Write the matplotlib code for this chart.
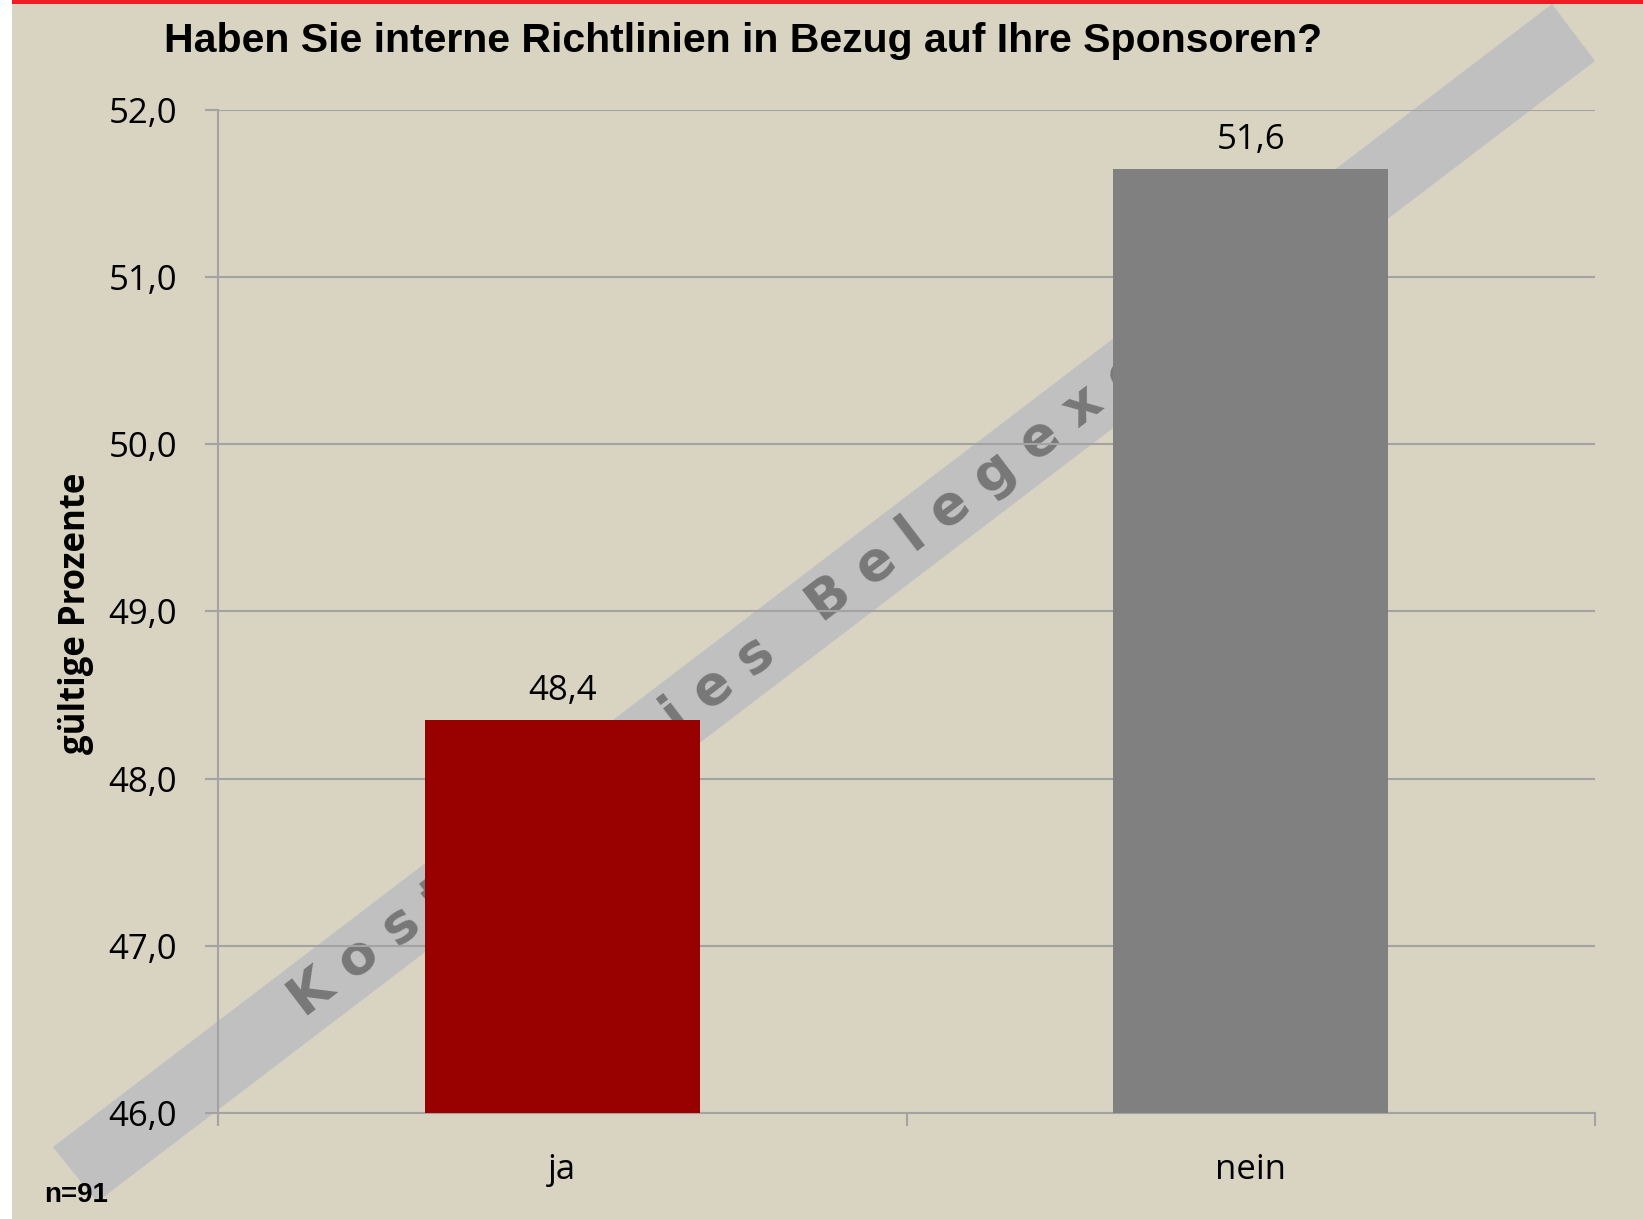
import numpy as np
import matplotlib
matplotlib.use("Agg")
import matplotlib.pyplot as plt
from matplotlib.patches import Polygon

# data (n=91 -> 44 / 47 answers)
categories = ["ja", "nein"]
values = [48.352, 51.648]
bar_colors = ["#990000", "#808080"]
yticks = [46, 47, 48, 49, 50, 51, 52]

BG = "#d9d3c1"
GRID = "#a3a3a3"

W, H = 1643, 1219
fig = plt.figure(figsize=(W / 100, H / 100), dpi=100, facecolor="white")

def fx(px):
    return px / W

def fy(py):
    return 1 - py / H

# beige panel with white strip on the left and red line on top
fig.patches.append(plt.Rectangle((fx(12), 0), 1 - fx(12), fy(2), transform=fig.transFigure,
                                 facecolor=BG, edgecolor="none", zorder=-5))
fig.patches.append(plt.Rectangle((fx(12), fy(4)), 1 - fx(12), 1 - fy(4), transform=fig.transFigure,
                                 facecolor="#ee1c25", edgecolor="none", zorder=-5))

# watermark band
band = [(53, 1147), (97, 1202), (1595, 61), (1552, 4)]
fig.patches.append(Polygon([(fx(x), fy(y)) for x, y in band], closed=True,
                           transform=fig.transFigure, facecolor="#c0c0c0",
                           edgecolor="none", zorder=-4))
wm = " ".join("Kostenfreies Belegexemplar")
fig.text(fx(826), fy(602), wm, rotation=37.3, rotation_mode="anchor",
         ha="center", va="center", fontsize=39, fontweight="bold",
         color="#787878", family="DejaVu Sans", zorder=-3)

ax = fig.add_axes([fx(218), fy(1113), fx(1595) - fx(218), fy(110) - fy(1113)])
ax.set_facecolor("none")

x = np.arange(len(categories))
ax.bar(x, values, width=0.4, color=bar_colors, zorder=3)
for xi, v in zip(x, values):
    ax.text(xi, v + 0.07, f"{v:.1f}".replace(".", ","), ha="center", va="bottom",
            fontsize=25, family="Open Sans", color="black")

ax.set_xlim(-0.5, 1.5)
ax.set_ylim(46, 52)
ax.set_yticks(yticks)
ax.set_yticklabels([f"{t:.1f}".replace(".", ",") for t in yticks],
                   fontsize=25, family="Open Sans")
ax.set_xticks(x)
ax.set_xticklabels(categories, fontsize=25, family="Open Sans")
ax.set_xticks([-0.5, 0.5, 1.5], minor=True)
ax.tick_params(axis="x", which="major", length=0, pad=29)
ax.tick_params(axis="x", which="minor", length=9.5, width=1.5, color=GRID)
ax.tick_params(axis="y", length=9.5, width=1.5, color=GRID, pad=20)
ax.yaxis.grid(True, color=GRID, linewidth=1.5, zorder=1)
ax.set_axisbelow(True)
for s in ["top", "right"]:
    ax.spines[s].set_visible(False)
for s in ["left", "bottom"]:
    ax.spines[s].set_color(GRID)
    ax.spines[s].set_linewidth(1.5)

fig.text(fx(76), fy(613), "gültige Prozente", rotation=90, ha="center", va="center",
         fontsize=25, fontweight="bold", family="Open Sans")
fig.text(fx(743), fy(41), "Haben Sie interne Richtlinien in Bezug auf Ihre Sponsoren?",
         ha="center", va="center", fontsize=29.5, fontweight="bold", family="Liberation Sans")
fig.text(fx(44), fy(1195), "n=91", ha="left", va="center", fontsize=20,
         fontweight="bold", family="Liberation Sans")

fig.savefig("out.png", dpi=100, facecolor=fig.get_facecolor())
